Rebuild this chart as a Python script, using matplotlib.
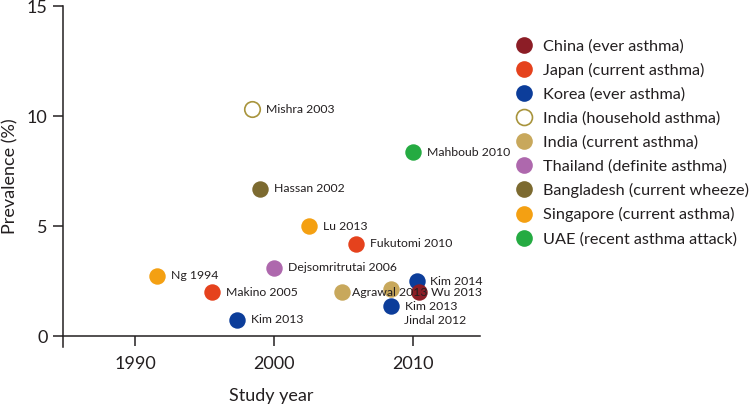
import matplotlib.pyplot as plt
from matplotlib.lines import Line2D

plt.rcParams['font.family'] = ['Lato', 'DejaVu Sans']

GROUPS = ['China (ever asthma)', 'Japan (current asthma)', 'Korea (ever asthma)',
          'India (household asthma)', 'India (current asthma)',
          'Thailand (definite asthma)', 'Bangladesh (current wheeze)',
          'Singapore (current asthma)', 'UAE (recent asthma attack)']
COLORS = ['#8c1d26', '#e5421d', '#0c3d9a', '#a8943c', '#c8a85c',
          '#ae68ad', '#7c6a30', '#f4a012', '#25ab42']

# one entry per study
STUDY_LABELS = ['Ng 1994', 'Makino 2005', 'Kim 2013', 'Mishra 2003', 'Hassan 2002',
                'Dejsomritrutai 2006', 'Lu 2013', 'Fukutomi 2010', 'Agrawal 2013',
                'Jindal 2012', 'Kim 2013', 'Kim 2014', 'Wu 2013', 'Mahboub 2010']
STUDY_YEAR = [1991.6, 1995.5, 1997.3, 1998.4, 1999.0, 2000.0, 2002.5, 2005.9,
              2004.9, 2008.4, 2008.4, 2010.3, 2010.4, 2010.0]
PREVALENCE = [2.75, 2.0, 0.75, 10.3, 6.7, 3.1, 5.0, 4.2, 2.0, 2.15, 1.35, 2.5, 2.0, 8.35]
STUDY_GROUP = [7, 1, 2, 3, 6, 5, 7, 1, 4, 4, 2, 2, 0, 8]

# labels that don't sit straight to the right of their dot
LABEL_OFFSETS = {8: (7, 0), 9: (9.5, -23), 11: (9.5, 0), 12: (9, 0)}

fig = plt.figure(figsize=(7.51, 4.05), dpi=100)
ax = fig.add_axes([0.0839, 0.143, 0.555, 0.842])

for i, (x, y, g) in enumerate(zip(STUDY_YEAR, PREVALENCE, STUDY_GROUP)):
    if g == 3:
        ax.scatter(x, y, s=125, facecolor='white', edgecolor=COLORS[g],
                   linewidth=1.2, zorder=3)
    else:
        ax.scatter(x, y, s=140, color=COLORS[g], linewidth=0, zorder=3)
    dx, dy = LABEL_OFFSETS.get(i, (10, 0))
    ax.annotate(STUDY_LABELS[i], (x, y), xytext=(dx, dy), textcoords='offset points',
                ha='left', va='center', fontsize=8.8, color='#231f20',
                annotation_clip=False, zorder=4)

ax.set_xlim(1984.8, 2014.8)
ax.set_ylim(-0.5, 15)
ax.set_xticks([1990, 2000, 2010])
ax.set_yticks([0, 5, 10, 15])
for side in ['top', 'right']:
    ax.spines[side].set_visible(False)
ax.spines['bottom'].set_position(('data', 0))
for side in ['left', 'bottom']:
    ax.spines[side].set_linewidth(1.1)
    ax.spines[side].set_color('#231f20')
ax.tick_params(axis='both', direction='out', length=7.5, width=1.1,
               color='#231f20', labelsize=13, labelcolor='#231f20')
ax.tick_params(axis='x', pad=7)
ax.set_xlabel('Study year', fontsize=13, color='#231f20', labelpad=11)
ax.set_ylabel('Prevalence (%)', fontsize=13, color='#231f20', labelpad=6)

handles = []
for i, (name, c) in enumerate(zip(GROUPS, COLORS)):
    if i == 3:
        h = Line2D([], [], ls='none', marker='o', markersize=11.5,
                   markerfacecolor='white', markeredgecolor=c, markeredgewidth=1.2)
    else:
        h = Line2D([], [], ls='none', marker='o', markersize=12,
                   markerfacecolor=c, markeredgewidth=0)
    handles.append(h)

fig.legend(handles, GROUPS, loc='upper left', bbox_to_anchor=(0.6867, 0.904),
           frameon=False, fontsize=11.7, handlelength=1.03, handletextpad=0.62,
           labelspacing=0.585, borderpad=0, borderaxespad=0, labelcolor='#231f20')

fig.savefig('out.png', dpi=100)
